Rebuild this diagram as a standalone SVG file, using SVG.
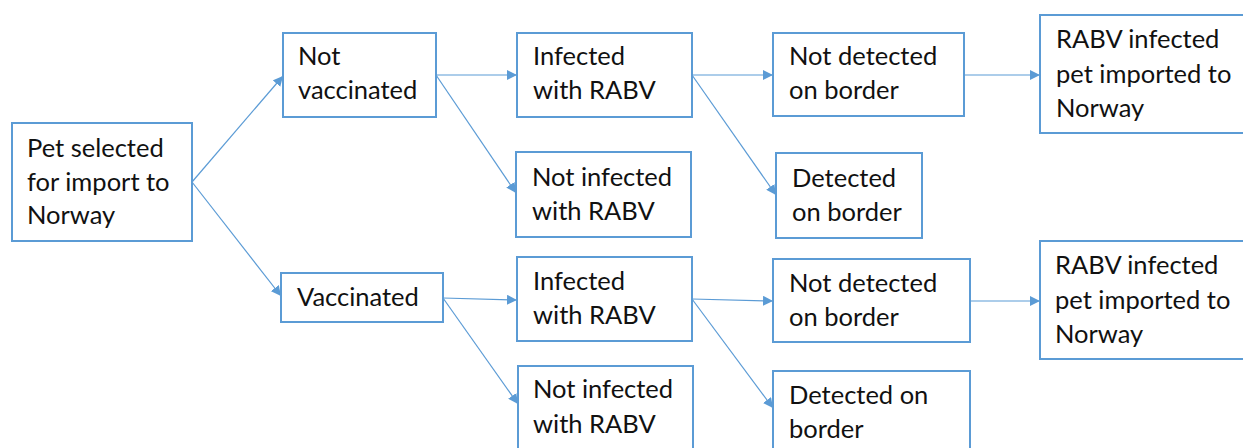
<svg xmlns="http://www.w3.org/2000/svg" width="1243" height="448" viewBox="0 0 1243 448">
<style>
.box{fill:#fff;stroke:#5B9BD5;stroke-width:2}
.t{font-family:Lato,"Open Sans","Liberation Sans",sans-serif;font-size:25.5px;fill:#111}
.c{stroke:#5B9BD5;stroke-width:1.2;fill:none;marker-end:url(#ah)}
</style>
<defs>
<marker id="ah" viewBox="0 0 10 10" refX="10" refY="5" markerWidth="10" markerHeight="10" markerUnits="userSpaceOnUse" orient="auto">
<path d="M0,0 L10,5 L0,10 z" fill="#5B9BD5"/>
</marker>
</defs>
<rect width="1243" height="448" fill="#fff"/>
<g id="connectors">
<line class="c" x1="192" y1="182" x2="283" y2="76"/>
<line class="c" x1="192" y1="182" x2="281" y2="296"/>
<line class="c" x1="436" y1="75" x2="517" y2="75"/>
<line class="c" x1="436" y1="75" x2="516" y2="193"/>
<line class="c" x1="692" y1="75" x2="773" y2="75"/>
<line class="c" x1="692" y1="75" x2="776" y2="195"/>
<line class="c" x1="964" y1="75" x2="1040" y2="75"/>
<line class="c" x1="443" y1="298" x2="517" y2="300"/>
<line class="c" x1="443" y1="298" x2="518" y2="404"/>
<line class="c" x1="692" y1="299" x2="773" y2="301"/>
<line class="c" x1="692" y1="299" x2="773" y2="408"/>
<line class="c" x1="970" y1="301" x2="1040" y2="301"/>
</g>
<g id="n_pet"><rect class="box" x="12" y="123" width="180" height="118"/><text class="t" x="27" y="157">Pet selected</text><text class="t" x="27" y="191">for import to</text><text class="t" x="27" y="224">Norway</text></g>
<g id="n_notvacc"><rect class="box" x="283" y="33" width="153" height="84"/><text class="t" x="298" y="65">Not</text><text class="t" x="298" y="99">vaccinated</text></g>
<g id="n_vacc"><rect class="box" x="281" y="273" width="162" height="49"/><text class="t" x="297" y="306">Vaccinated</text></g>
<g id="n_inf1"><rect class="box" x="517" y="33" width="175" height="84"/><text class="t" x="533" y="65">Infected</text><text class="t" x="533" y="99">with RABV</text></g>
<g id="n_notinf1"><rect class="box" x="516" y="152" width="175" height="85"/><text class="t" x="532" y="186">Not infected</text><text class="t" x="532" y="220">with RABV</text></g>
<g id="n_notdet1"><rect class="box" x="773" y="33" width="191" height="83"/><text class="t" x="789" y="65">Not detected</text><text class="t" x="789" y="99">on border</text></g>
<g id="n_det1"><rect class="box" x="776" y="153" width="146" height="85"/><text class="t" x="792" y="187">Detected</text><text class="t" x="792" y="221">on border</text></g>
<g id="n_imp1"><rect class="box" x="1040" y="15" width="204" height="118"/><text class="t" x="1056" y="48">RABV infected</text><text class="t" x="1056" y="83">pet imported to</text><text class="t" x="1056" y="117">Norway</text></g>
<g id="n_inf2"><rect class="box" x="517" y="257" width="175" height="84"/><text class="t" x="533" y="290">Infected</text><text class="t" x="533" y="324">with RABV</text></g>
<g id="n_notinf2"><rect class="box" x="518" y="366" width="175" height="90"/><text class="t" x="533" y="398">Not infected</text><text class="t" x="533" y="433">with RABV</text></g>
<g id="n_notdet2"><rect class="box" x="773" y="259" width="197" height="83"/><text class="t" x="789" y="292">Not detected</text><text class="t" x="789" y="326">on border</text></g>
<g id="n_det2"><rect class="box" x="773" y="371" width="197" height="85"/><text class="t" x="789" y="404">Detected on</text><text class="t" x="789" y="438">border</text></g>
<g id="n_imp2"><rect class="box" x="1040" y="241" width="204" height="118"/><text class="t" x="1055" y="274">RABV infected</text><text class="t" x="1055" y="309">pet imported to</text><text class="t" x="1055" y="343">Norway</text></g>
</svg>
